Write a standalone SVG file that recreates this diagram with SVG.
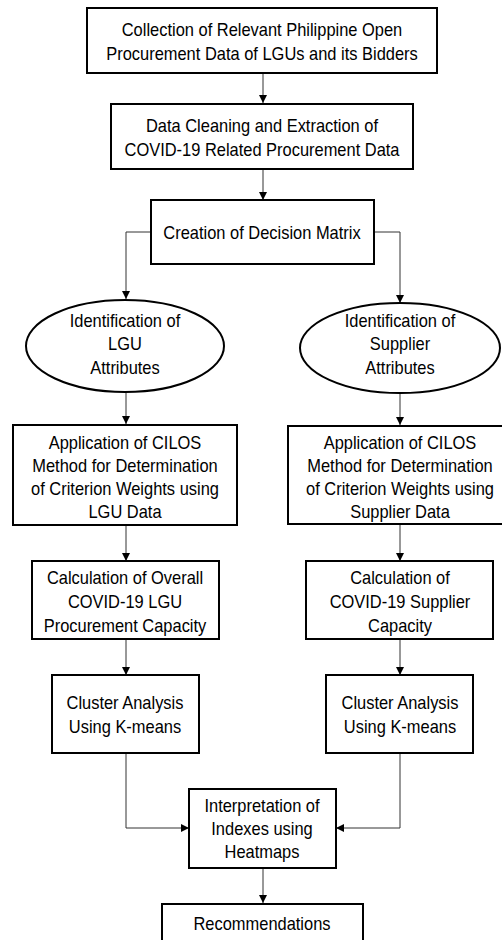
<svg xmlns="http://www.w3.org/2000/svg" width="502" height="940" viewBox="0 0 502 940">
<defs>
<marker id="ah" viewBox="0 0 8 8" refX="8" refY="4" markerWidth="8" markerHeight="8" markerUnits="userSpaceOnUse" orient="auto">
<path d="M0,0 L8,4 L0,8 Z" fill="#000"/>
</marker>
<style>
.n{fill:#fff;stroke:#000;stroke-width:2}
.t{font-family:"Liberation Sans",Arial,sans-serif;font-size:17.5px;fill:#000;text-anchor:middle}
.c{fill:none;stroke:#333;stroke-width:1;marker-end:url(#ah)}
</style>
</defs>
<rect width="502" height="940" fill="#fff"/>
<g id="connectors">
<path class="c" d="M263,73 V103"/>
<path class="c" d="M263,169 V200"/>
<path class="c" d="M151,232 H126 V299"/>
<path class="c" d="M374,232 H400 V303"/>
<path class="c" d="M126,392 V424"/>
<path class="c" d="M400,393 V425"/>
<path class="c" d="M126,525 V561"/>
<path class="c" d="M400,524 V561"/>
<path class="c" d="M126,639 V675"/>
<path class="c" d="M400,639 V675"/>
<path class="c" d="M126,753 V828 H189"/>
<path class="c" d="M400,753 V828 H336"/>
<path class="c" d="M263,868 V903"/>
</g>
<g id="n1"><rect class="n" x="87" y="8" width="350" height="65"/>
<g class="t" transform="translate(262 0) scale(0.94 1)">
<text x="0" y="36">Collection of Relevant Philippine Open</text>
<text x="0" y="60">Procurement Data of LGUs and its Bidders</text></g></g>
<g id="n2"><rect class="n" x="111" y="104" width="302" height="65"/>
<g class="t" transform="translate(262 0) scale(0.94 1)">
<text x="0" y="132">Data Cleaning and Extraction of</text>
<text x="0" y="156">COVID-19 Related Procurement Data</text></g></g>
<g id="n3"><rect class="n" x="151" y="200" width="223" height="64"/>
<g class="t" transform="translate(262 0) scale(0.94 1)">
<text x="0" y="239">Creation of Decision Matrix</text></g></g>
<g id="n4"><ellipse class="n" cx="125" cy="346" rx="99" ry="46"/>
<g class="t" transform="translate(125 0) scale(0.94 1)">
<text x="0" y="327">Identification of</text>
<text x="0" y="350">LGU</text>
<text x="0" y="374">Attributes</text></g></g>
<g id="n5"><ellipse class="n" cx="400" cy="348" rx="100" ry="45"/>
<g class="t" transform="translate(400 0) scale(0.94 1)">
<text x="0" y="327">Identification of</text>
<text x="0" y="350">Supplier</text>
<text x="0" y="374">Attributes</text></g></g>
<g id="n6"><rect class="n" x="13" y="425" width="224" height="100"/>
<g class="t" transform="translate(125 0) scale(0.94 1)">
<text x="0" y="449">Application of CILOS</text>
<text x="0" y="472">Method for Determination</text>
<text x="0" y="495">of Criterion Weights using</text>
<text x="0" y="518">LGU Data</text></g></g>
<g id="n7"><rect class="n" x="288" y="426" width="216" height="98"/>
<g class="t" transform="translate(400 0) scale(0.94 1)">
<text x="0" y="449">Application of CILOS</text>
<text x="0" y="472">Method for Determination</text>
<text x="0" y="495">of Criterion Weights using</text>
<text x="0" y="518">Supplier Data</text></g></g>
<g id="n8"><rect class="n" x="32" y="561" width="187" height="78"/>
<g class="t" transform="translate(125 0) scale(0.94 1)">
<text x="0" y="584">Calculation  of Overall</text>
<text x="0" y="608">COVID-19 LGU</text>
<text x="0" y="632">Procurement Capacity</text></g></g>
<g id="n9"><rect class="n" x="306" y="561" width="187" height="78"/>
<g class="t" transform="translate(400 0) scale(0.94 1)">
<text x="0" y="584">Calculation  of</text>
<text x="0" y="608">COVID-19 Supplier</text>
<text x="0" y="632">Capacity</text></g></g>
<g id="n10"><rect class="n" x="52" y="675" width="147" height="78"/>
<g class="t" transform="translate(125 0) scale(0.94 1)">
<text x="0" y="709">Cluster Analysis</text>
<text x="0" y="733">Using K-means</text></g></g>
<g id="n11"><rect class="n" x="326" y="675" width="147" height="78"/>
<g class="t" transform="translate(400 0) scale(0.94 1)">
<text x="0" y="709">Cluster Analysis</text>
<text x="0" y="733">Using K-means</text></g></g>
<g id="n12"><rect class="n" x="189" y="789" width="147" height="79"/>
<g class="t" transform="translate(262 0) scale(0.94 1)">
<text x="0" y="812">Interpretation of</text>
<text x="0" y="835">Indexes using</text>
<text x="0" y="858">Heatmaps</text></g></g>
<g id="n13"><rect class="n" x="162" y="904" width="201" height="45"/>
<g class="t" transform="translate(262 0) scale(0.94 1)">
<text x="0" y="930">Recommendations</text></g></g>
</svg>
